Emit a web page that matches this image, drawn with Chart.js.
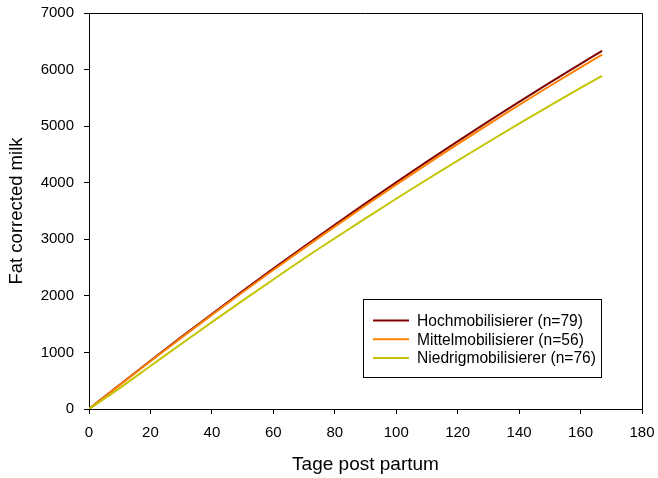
<!DOCTYPE html>
<html>
<head>
<meta charset="utf-8">
<title>Fat corrected milk</title>
<script src="https://cdn.jsdelivr.net/npm/chart.js@4.4.1/dist/chart.umd.min.js"></script>
<style>
    html, body { margin: 0; padding: 0; background: #fff; }
    canvas { display: block; }
</style>
</head>
<body>
<canvas id="fcmChart" width="658" height="478"></canvas>
<script>
// cumulative FCM (kg) per group, read at these days post partum
const days = [0, 10, 20, 30, 40, 50, 60, 70, 80, 90, 100, 110, 120, 130, 140, 150, 160, 167];
const hochFcm = [0, 430, 853, 1270, 1680, 2084, 2482, 2873, 3257, 3635, 4007, 4372, 4731, 5083, 5429, 5768, 6101, 6330];
const mittelFcm = [0, 425, 844, 1257, 1663, 2063, 2456, 2843, 3224, 3598, 3966, 4328, 4683, 5031, 5374, 5710, 6039, 6266];
const niedrigFcm = [0, 370, 760, 1150, 1535, 1915, 2290, 2661, 3018, 3370, 3716, 4057, 4392, 4720, 5044, 5362, 5675, 5889];

const groupLabels = ['Hochmobilisierer (n=79)', 'Mittelmobilisierer (n=56)', 'Niedrigmobilisierer (n=76)'];
const groupColors = ['#800000', '#ff8000', '#c4c400'];

const FONT = "'Liberation Sans', Arial, sans-serif";

function toPoints(values) {
    return days.map((d, i) => ({ x: d, y: values[i] }));
}

// box around the plot area (SigmaPlot style frame)
const frame = {
    id: 'frame',
    afterDatasetsDraw(chart) {
        const { ctx, chartArea: a } = chart;
        ctx.save();
        ctx.strokeStyle = '#000';
        ctx.lineWidth = 1;
        ctx.beginPath();
        ctx.moveTo(a.left, a.top + 0.5);
        ctx.lineTo(a.right + 0.5, a.top + 0.5);
        ctx.lineTo(a.right + 0.5, a.bottom);
        ctx.stroke();
        ctx.restore();
    }
};

// legend box drawn inside the plot area, lower right
const insideLegend = {
    id: 'insideLegend',
    afterDraw(chart) {
        const { ctx } = chart;
        const box = { x: 363.5, y: 299.5, w: 238, h: 78 };
        ctx.save();
        ctx.fillStyle = '#fff';
        ctx.fillRect(box.x, box.y, box.w, box.h);
        ctx.strokeStyle = '#000';
        ctx.lineWidth = 1;
        ctx.strokeRect(box.x, box.y, box.w, box.h);
        ctx.font = '15.6px ' + FONT;
        ctx.textBaseline = 'middle';
        chart.data.datasets.forEach((ds, i) => {
            const y = 320.5 + i * 18.8;
            ctx.strokeStyle = ds.borderColor;
            ctx.lineWidth = 2;
            ctx.beginPath();
            ctx.moveTo(373, y);
            ctx.lineTo(409, y);
            ctx.stroke();
            ctx.fillStyle = '#000';
            ctx.fillText(ds.label, 417, y + 1);
        });
        ctx.restore();
    }
};

const series = [hochFcm, mittelFcm, niedrigFcm];

new Chart(document.getElementById('fcmChart'), {
    type: 'line',
    data: {
        datasets: series.map((vals, i) => ({
            label: groupLabels[i],
            data: toPoints(vals),
            borderColor: groupColors[i],
            borderWidth: 2,
            pointRadius: 0,
            fill: false,
            cubicInterpolationMode: 'monotone',
            order: 3 - i
        }))
    },
    options: {
        responsive: false,
        animation: false,
        layout: { padding: { top: 13, right: 16, left: 0, bottom: 0 } },
        plugins: {
            legend: { display: false },
            tooltip: { enabled: false }
        },
        scales: {
            x: {
                type: 'linear',
                min: 0,
                max: 180,
                ticks: { stepSize: 20, color: '#000', font: { family: FONT, size: 15 }, padding: 10, maxRotation: 0 },
                grid: { drawOnChartArea: false, drawTicks: true, tickLength: 5, color: '#000' },
                border: { color: '#000', width: 1 },
                title: { display: true, text: 'Tage post partum', color: '#000', font: { family: FONT, size: 19 }, padding: { top: 13, bottom: 2 } },
                afterFit(scale) {
                    scale.height = 69;
                    scale.paddingLeft = 0;
                    scale.paddingRight = 0;
                }
            },
            y: {
                min: 0,
                max: 7000,
                ticks: {
                    stepSize: 1000,
                    color: '#000',
                    font: { family: FONT, size: 15 },
                    padding: 10,
                    callback: (v) => String(v)
                },
                grid: { drawOnChartArea: false, drawTicks: true, tickLength: 5, color: '#000' },
                border: { color: '#000', width: 1 },
                title: { display: true, text: 'Fat corrected milk', color: '#000', font: { family: FONT, size: 18.5 }, padding: { top: 6, bottom: 0 } },
                afterFit(scale) {
                    scale.width = 89;
                    scale.paddingTop = 0;
                    scale.paddingBottom = 0;
                }
            }
        }
    },
    plugins: [frame, insideLegend]
});
</script>
</body>
</html>
